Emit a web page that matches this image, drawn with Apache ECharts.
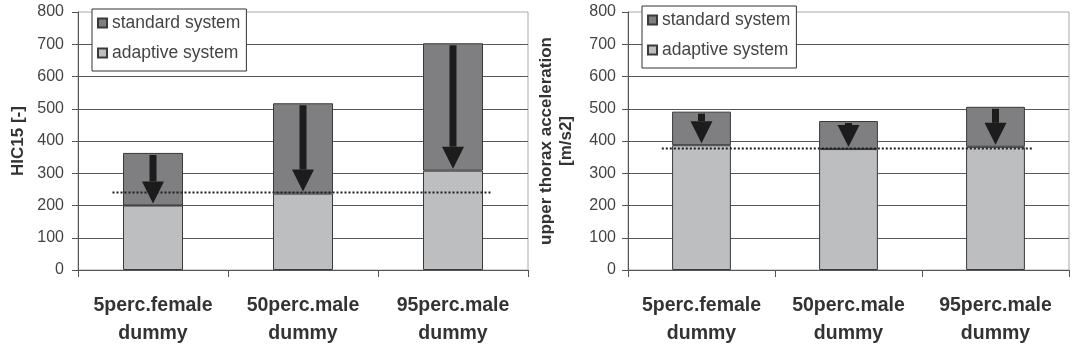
<!DOCTYPE html>
<html>
<head>
<meta charset="utf-8">
<title>HIC15 and upper thorax acceleration</title>
<script src="https://cdn.jsdelivr.net/npm/echarts@6/dist/echarts.min.js"></script>
<style>
  html, body { margin: 0; padding: 0; background: #fff; }
  #chart { width: 1080px; height: 354px; }
</style>
</head>
<body>
<div id="chart"></div>
<script>
const categories = ['5perc.female\ndummy', '50perc.male\ndummy', '95perc.male\ndummy']
const yTicks = [0, 100, 200, 300, 400, 500, 600, 700, 800]

// HIC15 [-]
const hicStandard = [363, 517, 703]
const hicAdaptive = [200, 237, 308]
const hicLimit = 240

// upper thorax acceleration [m/s2]
const thoraxStandard = [491, 462, 506]
const thoraxAdaptive = [387, 375, 382]
const thoraxLimit = 377

const FONT = '"Liberation Sans", Arial, sans-serif'
const COLOR_STD = '#7f7f81'
const COLOR_ADA = '#bdbec0'
const COLOR_EDGE = '#3a3a3a'

function yAxisFor(gridIndex, name, nameGap, labelMargin) {
  return {
    type: 'value',
    gridIndex,
    min: yTicks[0],
    max: yTicks[yTicks.length - 1],
    interval: yTicks[1] - yTicks[0],
    name,
    nameLocation: 'middle',
    nameGap,
    nameTextStyle: { fontFamily: FONT, fontSize: 17, fontWeight: 'bold', color: '#333', lineHeight: 20 },
    axisLine: { show: true, lineStyle: { color: '#555', width: 1 } },
    axisTick: { show: true, length: 6, lineStyle: { color: '#555' } },
    axisLabel: { fontFamily: FONT, fontSize: 16, color: '#444', margin: labelMargin },
    // top edge is the light plot border, not a grid line
    splitLine: { show: true, showMaxLine: false, lineStyle: { color: '#585858', width: 1 } },
  }
}

function xAxisFor(gridIndex) {
  return {
    type: 'category',
    gridIndex,
    data: categories,
    axisLine: { show: true, lineStyle: { color: '#555' } },
    axisTick: { show: true, length: 7, lineStyle: { color: '#555' } },
    axisLabel: {
      fontFamily: FONT, fontSize: 19.5, fontWeight: 'bold', color: '#333',
      lineHeight: 28, margin: 22, interval: 0,
    },
  }
}

function legendFor(left, top) {
  return {
    orient: 'vertical',
    left, top,
    data: ['standard system', 'adaptive system'],
    icon: 'rect',
    itemWidth: 9,
    itemHeight: 9,
    itemGap: 10,
    padding: [4, 6, 8, 5],
    backgroundColor: '#fff',
    borderColor: '#333',
    borderWidth: 1,
    selectedMode: false,
    textStyle: { fontFamily: FONT, fontSize: 17.5, color: '#444', lineHeight: 20 },
  }
}

function barSeries(axisIndex, standard, adaptive) {
  const common = {
    type: 'bar',
    xAxisIndex: axisIndex,
    yAxisIndex: axisIndex,
    stack: 'dummy' + axisIndex,
    barWidth: '40%',
  }
  return [
    {
      ...common,
      name: 'adaptive system',
      data: adaptive,
      itemStyle: { color: COLOR_ADA, borderColor: COLOR_EDGE, borderWidth: 1 },
    },
    {
      ...common,
      name: 'standard system',
      // stacked on top of adaptive: only the difference
      data: standard.map((v, i) => v - adaptive[i]),
      itemStyle: { color: COLOR_STD, borderColor: COLOR_EDGE, borderWidth: 1 },
    },
  ]
}

function arrowSeries(axisIndex, standard, adaptive) {
  return {
    type: 'custom',
    xAxisIndex: axisIndex,
    yAxisIndex: axisIndex,
    silent: true,
    z: 5,
    encode: { x: 0, y: [1, 2] },
    data: standard.map((v, i) => [i, v, adaptive[i]]),
    renderItem(params, api) {
      const top = api.coord([api.value(0), api.value(1)])
      const bot = api.coord([api.value(0), api.value(2)])
      const cx = top[0]
      const y0 = top[1] + 2
      const tip = bot[1] - 2
      const headH = 22
      const headW = 22
      const shaftW = 7
      const neck = Math.max(tip - headH, y0)
      return {
        type: 'group',
        children: [
          { type: 'rect', shape: { x: cx - shaftW / 2, y: y0, width: shaftW, height: neck - y0 }, style: { fill: '#1c1c1c' } },
          { type: 'polygon', shape: { points: [[cx - headW / 2, neck], [cx + headW / 2, neck], [cx, tip]] }, style: { fill: '#1c1c1c' } },
        ],
      }
    },
  }
}

function limitSeries(axisIndex, limit) {
  return {
    type: 'custom',
    xAxisIndex: axisIndex,
    yAxisIndex: axisIndex,
    silent: true,
    z: 6,
    encode: { x: [0, 1], y: 2 },
    data: [[0, categories.length - 1, limit]],
    renderItem(params, api) {
      const a = api.coord([api.value(0), api.value(2)])
      const b = api.coord([api.value(1), api.value(2)])
      const band = api.size([1, 0])[0]
      return {
        type: 'line',
        shape: { x1: a[0] - 0.27 * band, y1: a[1], x2: b[0] + 0.25 * band, y2: b[1] },
        style: { stroke: '#1e1e1e', lineWidth: 2, lineDash: [2, 2] },
      }
    },
  }
}

const chart = echarts.init(document.getElementById('chart'))
chart.setOption({
  animation: false,
  backgroundColor: '#fff',
  grid: [
    { left: 78, top: 12, width: 450, height: 258, show: true, borderColor: '#aaa', borderWidth: 1 },
    { left: 628, top: 12, width: 441, height: 258, show: true, borderColor: '#aaa', borderWidth: 1 },
  ],
  legend: [legendFor(92, 9), legendFor(642, 6)],
  xAxis: [xAxisFor(0), xAxisFor(1)],
  yAxis: [
    yAxisFor(0, 'HIC15 [-]', 50, 14),
    yAxisFor(1, 'upper thorax acceleration\n[m/s2]', 52, 12),
  ],
  series: [
    ...barSeries(0, hicStandard, hicAdaptive),
    ...barSeries(1, thoraxStandard, thoraxAdaptive),
    arrowSeries(0, hicStandard, hicAdaptive),
    arrowSeries(1, thoraxStandard, thoraxAdaptive),
    limitSeries(0, hicLimit),
    limitSeries(1, thoraxLimit),
  ],
})
</script>
</body>
</html>
